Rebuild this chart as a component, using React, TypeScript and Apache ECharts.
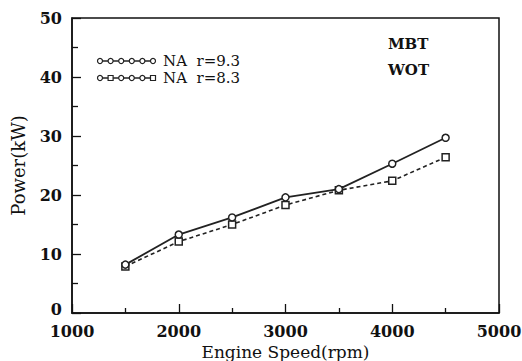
import React, { useEffect, useRef } from "react";
import * as echarts from "echarts";

// Engine speed (rpm) and power (kW) at MBT, WOT
const speeds = [1500, 2000, 2500, 3000, 3500, 4000, 4500];
const powerR93 = [8.2, 13.3, 16.2, 19.6, 21.0, 25.3, 29.7];
const powerR83 = [7.9, 12.1, 15.0, 18.3, 20.8, 22.4, 26.4];
const seriesNames = ["NA  r=9.3", "NA  r=8.3"];
const notes = ["MBT", "WOT"];

const SERIF = "'DejaVu Serif', 'Liberation Serif', serif";

export default function App() {
  const ref = useRef<HTMLDivElement>(null);

  useEffect(() => {
    if (!ref.current) return;
    const chart = echarts.init(ref.current, null, { renderer: "svg" });

    // legend: a short line with a chain of small hollow markers, then the label
    const legendRows = seriesNames.map((name, i) => {
      const y = 61 + i * 17;
      const children: any[] = [
        {
          type: "line",
          shape: { x1: 98, y1: y, x2: 155, y2: y },
          style: { stroke: "#222", lineWidth: 1.3 },
        },
      ];
      for (let k = 0; k < 6; k++) {
        const cx = 100 + k * 10.6;
        if (i === 1 && (k === 1 || k === 5)) {
          children.push({
            type: "rect",
            shape: { x: cx - 2.5, y: y - 2.5, width: 5, height: 5 },
            style: { fill: "#fff", stroke: "#222", lineWidth: 1.2 },
          });
        } else {
          children.push({
            type: "circle",
            shape: { cx, cy: y, r: 2.5 },
            style: { fill: "#fff", stroke: "#222", lineWidth: 1.2 },
          });
        }
      }
      children.push({
        type: "text",
        x: 163,
        y,
        style: {
          text: name,
          font: `15px ${SERIF}`,
          fill: "#111",
          verticalAlign: "middle",
        },
      });
      return { type: "group", children };
    });

    const noteTexts = notes.map((t, i) => ({
      type: "text",
      x: 388,
      y: 44 + i * 26,
      style: {
        text: t,
        font: `bold 15px ${SERIF}`,
        fill: "#111",
        verticalAlign: "middle",
      },
    }));

    const tickFont = { fontFamily: SERIF, fontWeight: "bold", fontSize: 16, color: "#111" };

    chart.setOption({
      animation: false,
      backgroundColor: "#fff",
      grid: {
        left: 72,
        right: 23,
        top: 18,
        bottom: 48,
        outerBoundsMode: "none",
        show: true,
        borderColor: "#111",
        borderWidth: 1.5,
        backgroundColor: "transparent",
      },
      xAxis: {
        type: "value",
        min: 1000,
        max: 5000,
        interval: 1000,
        name: "Engine Speed(rpm)",
        nameLocation: "middle",
        nameGap: 27,
        nameTextStyle: { fontFamily: SERIF, fontSize: 17, color: "#111" },
        axisLine: { lineStyle: { color: "#111", width: 1.5 } },
        axisTick: { inside: true, length: 9, lineStyle: { color: "#111", width: 1.3 } },
        minorTick: { show: true, splitNumber: 2, length: 5, lineStyle: { color: "#111", width: 1.3 } },
        splitLine: { show: false },
        axisLabel: {
          ...tickFont,
          lineHeight: 14,
          margin: 11,
          formatter: (v: number) => String(v),
        },
      },
      yAxis: {
        type: "value",
        min: 0,
        max: 50,
        interval: 10,
        name: "Power(kW)",
        nameLocation: "middle",
        nameGap: 45,
        nameTextStyle: { fontFamily: SERIF, fontSize: 18, color: "#111" },
        axisLine: { lineStyle: { color: "#111", width: 1.5 } },
        axisTick: { inside: true, length: 9, lineStyle: { color: "#111", width: 1.3 } },
        minorTick: { show: true, splitNumber: 2, length: 6, lineStyle: { color: "#111", width: 1.3 } },
        splitLine: { show: false },
        axisLabel: {
          ...tickFont,
          lineHeight: 12,
          margin: 10,
          // the zero sits a little higher so it clears the 1000 below it
          formatter: (v: number) => (v === 0 ? "{z|0}" : String(v)),
          rich: { z: { ...tickFont, lineHeight: 12, padding: [0, 0, 7, 0] } },
        },
      },
      series: [
        {
          name: seriesNames[0],
          type: "line",
          data: speeds.map((s, i) => [s, powerR93[i]]),
          symbol: "circle",
          symbolSize: 7,
          lineStyle: { color: "#222", width: 1.8, type: "solid" },
          itemStyle: { color: "#fff", borderColor: "#222", borderWidth: 1.5 },
          z: 3,
        },
        {
          name: seriesNames[1],
          type: "line",
          data: speeds.map((s, i) => [s, powerR83[i]]),
          symbol: "rect",
          symbolSize: 7,
          lineStyle: { color: "#222", width: 1.6, type: [4, 3] },
          itemStyle: { color: "#fff", borderColor: "#222", borderWidth: 1.5 },
          z: 2,
        },
      ],
      graphic: [...legendRows, ...noteTexts],
    });

    return () => chart.dispose();
  }, []);

  return (
    <div
      ref={ref}
      style={{ position: "absolute", left: 0, top: 0, width: 522, height: 361 }}
    />
  );
}
